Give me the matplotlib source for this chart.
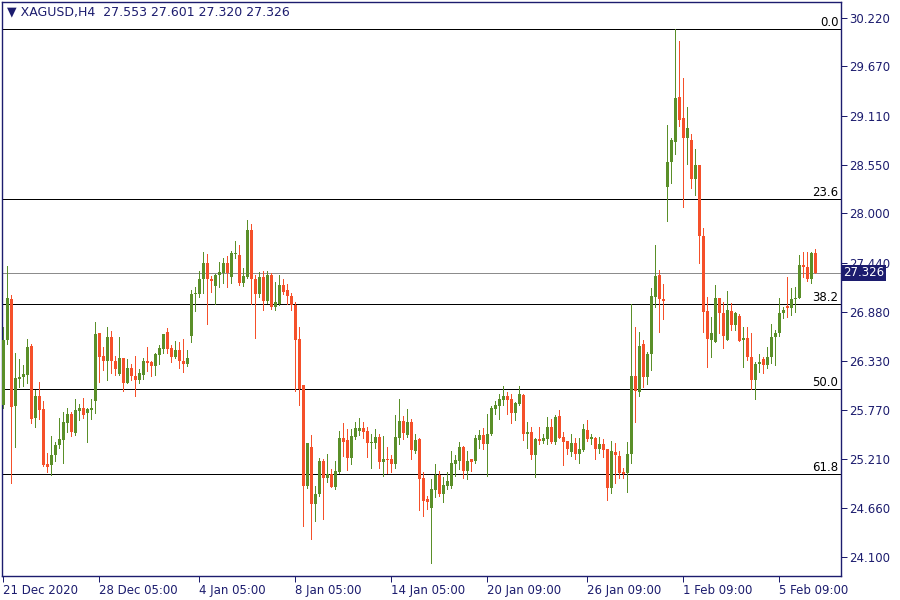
import matplotlib
matplotlib.use("Agg")
import matplotlib.pyplot as plt
import matplotlib.transforms as mtransforms
import numpy as np

# XAGUSD H4 candles, 21 Dec 2020 .. 5 Feb 2021
opens = [
    25.83, 26.56, 27.03, 25.81, 26.12, 26.14, 26.17, 26.50, 25.68, 25.93,
    25.78, 25.15, 25.14, 25.26, 25.37, 25.43, 25.62, 25.72, 25.51, 25.76,
    25.79, 25.73, 25.77, 25.87, 26.64, 26.38, 26.32, 26.60, 26.33, 26.18,
    26.36, 26.08, 26.25, 26.15, 26.11, 26.17, 26.33, 26.31, 26.27, 26.39,
    26.46, 26.65, 26.47, 26.37, 26.45, 26.33, 26.29, 26.61, 27.08, 27.09,
    27.26, 27.44, 27.26, 27.18, 27.30, 27.32, 27.44, 27.28, 27.54, 27.53,
    27.21, 27.28, 27.81, 27.26, 27.08, 27.28, 27.01, 27.30, 26.94, 26.97,
    27.19, 27.13, 27.06, 26.96, 26.58, 26.05, 24.91, 25.35, 24.70, 24.81,
    25.19, 25.00, 25.04, 24.89, 25.06, 25.45, 25.43, 25.22, 25.46, 25.53,
    25.56, 25.53, 25.39, 25.39, 25.46, 25.18, 25.21, 25.21, 25.16, 25.45,
    25.64, 25.49, 25.63, 25.30, 25.44, 25.00, 24.76, 24.66, 24.86, 25.03,
    24.81, 24.91, 24.91, 25.16, 25.19, 25.35, 25.08, 25.21, 25.19, 25.43,
    25.49, 25.38, 25.50, 25.78, 25.81, 25.88, 25.93, 25.89, 25.73, 25.84,
    25.94, 25.50, 25.52, 25.26, 25.44, 25.42, 25.44, 25.58, 25.41, 25.70,
    25.46, 25.42, 25.29, 25.39, 25.27, 25.31, 25.54, 25.44, 25.45, 25.33,
    25.38, 25.33, 24.88, 25.29, 25.25, 25.06, 25.05, 25.27, 26.15, 25.97,
    26.52, 26.14, 26.40, 27.05, 27.30, 27.03, 28.30, 28.58, 28.81, 29.32,
    29.08, 28.86, 28.83, 28.39, 28.55, 27.74, 26.89, 26.56, 26.54, 27.04,
    26.87, 26.56, 26.89, 26.73, 26.84, 26.56, 26.59, 26.37, 26.11, 26.29,
    26.35, 26.28, 26.37, 26.60, 26.64, 26.87, 26.95, 26.93, 27.03, 27.04,
    27.42, 27.39, 27.25, 27.553,
]
highs = [
    26.71, 27.40, 27.07, 26.41, 26.35, 26.28, 26.57, 26.52, 26.00, 26.09,
    25.87, 25.28, 25.47, 25.41, 25.68, 25.75, 25.79, 25.75, 25.89, 25.84,
    25.90, 25.79, 25.89, 26.77, 26.64, 26.48, 26.71, 26.67, 26.38, 26.60,
    26.36, 26.35, 26.29, 26.38, 26.23, 26.36, 26.48, 26.33, 26.41, 26.51,
    26.63, 26.70, 26.51, 26.55, 26.54, 26.57, 26.45, 27.13, 27.17, 27.35,
    27.56, 27.54, 27.29, 27.31, 27.45, 27.49, 27.52, 27.57, 27.69, 27.64,
    27.38, 27.92, 27.88, 27.30, 27.34, 27.35, 27.35, 27.32, 27.22, 27.30,
    27.25, 27.20, 27.10, 26.99, 26.71, 26.05, 25.39, 25.49, 24.91, 25.22,
    25.21, 25.27, 25.10, 25.19, 25.53, 25.62, 25.55, 25.55, 25.63, 25.68,
    25.63, 25.58, 25.50, 25.55, 25.50, 25.47, 25.35, 25.26, 25.71, 25.89,
    25.70, 25.78, 25.67, 25.50, 25.45, 25.06, 24.79, 24.99, 25.16, 25.08,
    25.01, 25.06, 25.30, 25.26, 25.40, 25.36, 25.30, 25.21, 25.49, 25.54,
    25.56, 25.72, 25.81, 25.87, 25.95, 26.04, 25.97, 25.95, 25.86, 26.04,
    25.95, 25.63, 25.58, 25.45, 25.58, 25.50, 25.69, 25.67, 25.71, 25.77,
    25.52, 25.42, 25.50, 25.45, 25.45, 25.61, 25.66, 25.50, 25.46, 25.46,
    25.44, 25.33, 25.42, 25.39, 25.30, 25.11, 25.41, 26.97, 26.71, 26.65,
    26.56, 26.43, 27.15, 27.64, 27.36, 27.20, 29.00, 28.86, 30.09, 29.96,
    29.54, 29.21, 28.90, 28.73, 28.55, 27.84, 27.05, 26.82, 27.19, 27.04,
    26.99, 27.12, 26.98, 26.88, 26.86, 26.71, 26.71, 26.64, 26.31, 26.40,
    26.37, 26.48, 26.74, 26.68, 27.04, 26.94, 27.28, 27.15, 27.17, 27.53,
    27.56, 27.56, 27.56, 27.601,
]
lows = [
    25.79, 26.52, 24.94, 25.35, 26.03, 26.04, 26.08, 25.62, 25.57, 25.67,
    25.13, 25.07, 25.03, 25.19, 25.34, 25.17, 25.52, 25.47, 25.49, 25.66,
    25.68, 25.40, 25.67, 25.74, 26.09, 26.22, 26.11, 26.19, 26.17, 26.17,
    25.98, 26.08, 26.11, 25.93, 26.07, 26.12, 26.21, 26.16, 26.17, 26.29,
    26.42, 26.41, 26.31, 26.36, 26.25, 26.20, 26.27, 26.54, 26.89, 27.05,
    27.10, 26.74, 27.11, 26.97, 27.16, 27.21, 27.17, 27.21, 27.49, 27.19,
    27.18, 27.27, 26.97, 26.59, 27.05, 26.90, 26.98, 26.92, 26.90, 26.96,
    27.09, 26.97, 26.90, 25.98, 25.83, 24.45, 24.88, 24.30, 24.51, 24.79,
    24.53, 24.95, 24.89, 24.87, 25.05, 25.25, 25.09, 25.16, 25.44, 25.48,
    25.45, 25.23, 25.11, 25.34, 25.11, 25.02, 25.05, 25.06, 25.11, 25.38,
    25.44, 25.46, 25.21, 25.28, 24.63, 24.56, 24.64, 24.03, 24.78, 24.79,
    24.72, 24.87, 24.88, 25.02, 25.10, 25.00, 24.99, 25.08, 25.17, 25.34,
    25.33, 25.02, 25.49, 25.72, 25.67, 25.83, 25.72, 25.62, 25.66, 25.83,
    25.43, 25.34, 25.21, 25.01, 25.38, 25.39, 25.38, 25.39, 25.38, 25.45,
    25.14, 25.27, 25.25, 25.21, 25.17, 25.30, 25.42, 25.38, 25.21, 25.28,
    25.23, 24.75, 24.83, 24.94, 25.00, 25.00, 24.84, 25.17, 25.63, 25.93,
    26.03, 26.06, 26.22, 26.94, 26.65, 26.80, 27.91, 28.35, 28.67, 28.99,
    28.07, 28.56, 28.29, 28.21, 27.44, 26.65, 26.26, 26.37, 26.54, 26.64,
    26.47, 26.56, 26.68, 26.68, 26.55, 26.26, 26.34, 26.01, 25.89, 26.20,
    26.19, 26.25, 26.30, 26.28, 26.61, 26.81, 26.82, 26.85, 26.88, 27.04,
    27.28, 27.23, 27.21, 27.320,
]
closes = [
    26.56, 27.04, 25.80, 26.13, 26.14, 26.18, 26.48, 25.67, 25.93, 25.77,
    25.14, 25.12, 25.26, 25.37, 25.44, 25.63, 25.72, 25.52, 25.77, 25.79,
    25.71, 25.78, 25.79, 26.63, 26.37, 26.33, 26.60, 26.32, 26.23, 26.36,
    26.08, 26.25, 26.15, 26.11, 26.19, 26.32, 26.30, 26.27, 26.40, 26.47,
    26.63, 26.46, 26.37, 26.45, 26.32, 26.29, 26.36, 27.09, 27.10, 27.26,
    27.44, 27.25, 27.23, 27.30, 27.34, 27.44, 27.32, 27.55, 27.55, 27.21,
    27.29, 27.81, 27.26, 27.09, 27.28, 27.01, 27.30, 26.94, 26.99, 27.19,
    27.11, 27.06, 26.96, 26.56, 26.01, 24.91, 25.39, 24.70, 24.82, 25.19,
    25.00, 25.04, 24.89, 25.08, 25.45, 25.41, 25.22, 25.47, 25.56, 25.56,
    25.52, 25.39, 25.41, 25.46, 25.18, 25.21, 25.20, 25.16, 25.46, 25.64,
    25.51, 25.63, 25.31, 25.43, 24.99, 24.74, 24.72, 24.87, 25.03, 24.81,
    24.92, 24.96, 25.17, 25.20, 25.35, 25.08, 25.19, 25.18, 25.45, 25.49,
    25.38, 25.50, 25.79, 25.83, 25.89, 25.93, 25.88, 25.73, 25.85, 25.95,
    25.50, 25.52, 25.26, 25.44, 25.42, 25.45, 25.58, 25.41, 25.69, 25.45,
    25.41, 25.33, 25.39, 25.27, 25.33, 25.55, 25.44, 25.46, 25.33, 25.38,
    25.31, 24.88, 25.30, 25.26, 25.05, 25.04, 25.27, 26.15, 25.98, 26.50,
    26.14, 26.40, 27.06, 27.29, 27.03, 27.01, 28.58, 28.83, 29.31, 29.06,
    28.86, 28.97, 28.39, 28.55, 27.74, 26.88, 26.57, 26.64, 27.04, 26.87,
    26.61, 26.90, 26.73, 26.87, 26.55, 26.59, 26.37, 26.11, 26.29, 26.31,
    26.28, 26.37, 26.60, 26.64, 26.87, 26.90, 26.93, 27.03, 27.04, 27.42,
    27.39, 27.25, 27.55, 27.326,
]

# time axis labels and the bar they sit on
time_labels = ["21 Dec 2020", "28 Dec 05:00", "4 Jan 05:00", "8 Jan 05:00",
               "14 Jan 05:00", "20 Jan 09:00", "26 Jan 09:00", "1 Feb 09:00",
               "5 Feb 09:00"]
time_label_bars = [0, 24, 49, 73, 97, 121, 146, 170, 194]

price_ticks = [30.220, 29.670, 29.110, 28.550, 28.000, 27.440, 26.880,
               26.330, 25.770, 25.210, 24.660, 24.100]

# fibonacci retracement drawn from the swing high down to the swing low
fib_high = 30.095
fib_low = 21.92
fib_ratios = [0.0, 0.236, 0.382, 0.5, 0.618]

NAVY = "#1c1c6e"
GREEN = "#5a8f29"
RED = "#f5502a"
PX = 0.72  # one pixel at 100 dpi, in points

fig = plt.figure(figsize=(9, 6), dpi=100)
ax = fig.add_axes([2 / 900, 24 / 600, 839 / 900, 574 / 600])

o = np.array(opens)
h = np.array(highs)
l = np.array(lows)
c = np.array(closes)
x = np.arange(len(o))
up = c >= o
colors = np.where(up, GREEN, RED)

blend = mtransforms.blended_transform_factory(ax.transAxes, ax.transData)

# fib levels
for r in fib_ratios:
    lvl = fib_high - r * (fib_high - fib_low)
    ax.axhline(lvl, color="black", lw=PX, zorder=1, antialiased=False)
    ax.text(0.997, lvl, f"{r * 100:.1f}", transform=blend,
            ha="right", va="bottom", fontsize=8.5, color="black")

# bid line
ax.axhline(c[-1], color="#8c8c8c", lw=PX, zorder=1, antialiased=False)

# wicks and bodies
ax.vlines(x, l, h, colors=colors, lw=PX, zorder=2, antialiased=False)
body = np.maximum(np.abs(c - o), 0.015)
ax.bar(x, body, bottom=np.minimum(o, c), width=0.75, color=colors, zorder=3,
       linewidth=0, antialiased=False)

ax.set_xlim(-0.33, 209.4)
ax.set_ylim(23.884, 30.40)

ax.yaxis.tick_right()
ax.set_yticks(price_ticks)
ax.set_yticklabels([f"{p:.3f}" for p in price_ticks])
ax.set_xticks(time_label_bars)
ax.set_xticklabels(time_labels, ha="left")
ax.tick_params(axis="both", colors=NAVY, labelcolor=NAVY, labelsize=8.5,
               length=4, width=PX, direction="out", pad=2)
for sp in ax.spines.values():
    sp.set_color(NAVY)
    sp.set_linewidth(1)

# current price tag
ax.text(1.003, c[-1], f"{c[-1]:.3f}", transform=blend, ha="left", va="center",
        fontsize=8.5, color="white", zorder=5, clip_on=False,
        bbox=dict(boxstyle="square,pad=0.15", fc=NAVY, ec="none"))

# header
ax.text(0.006, 0.994, "\u25bc XAGUSD,H4  27.553 27.601 27.320 27.326", transform=ax.transAxes,
        ha="left", va="top", fontsize=9, color=NAVY)

fig.savefig("out.png", dpi=100)
